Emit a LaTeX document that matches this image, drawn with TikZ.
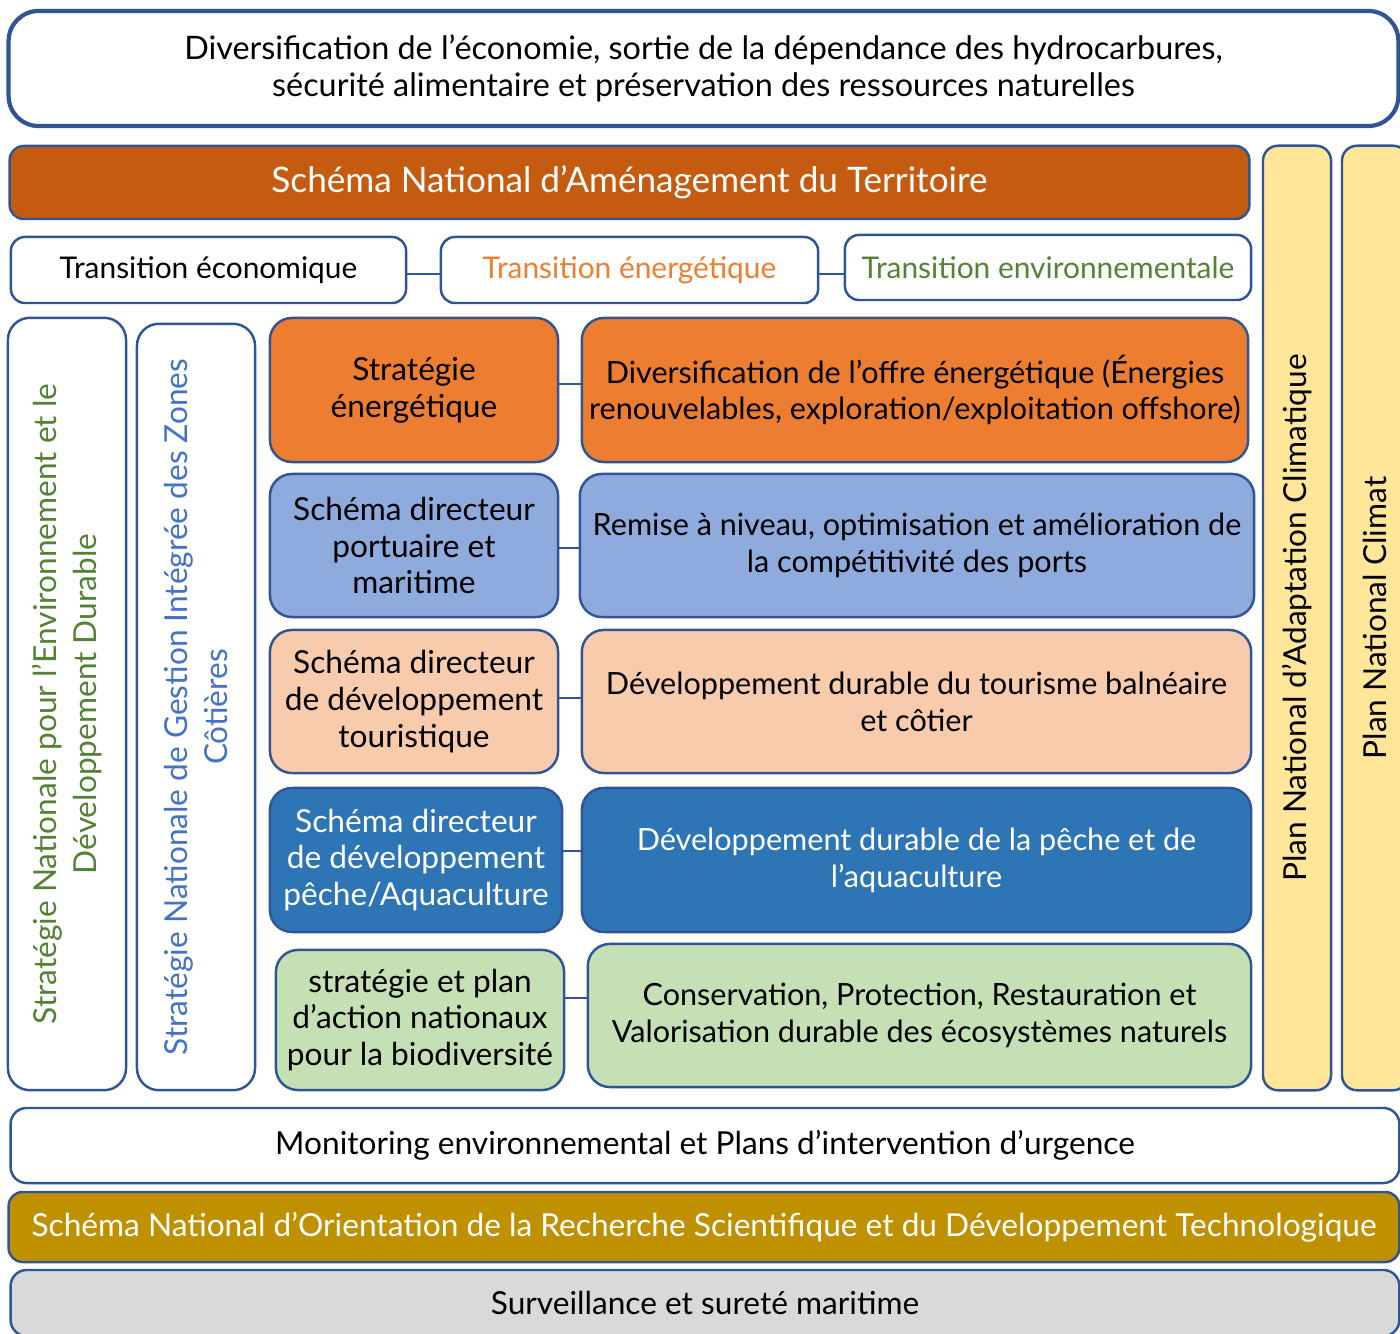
\documentclass[tikz,border=0pt]{standalone}
\usepackage{fontspec}
\setmainfont{Lato}
\definecolor{bordure}{HTML}{2F5597}
\definecolor{rouille}{HTML}{C55A11}
\definecolor{orange}{HTML}{ED7D31}
\definecolor{bleuclair}{HTML}{8FAADC}
\definecolor{saumon}{HTML}{F8CBAD}
\definecolor{bleu}{HTML}{2E75B6}
\definecolor{vertclair}{HTML}{C5E0B4}
\definecolor{jaune}{HTML}{FFE699}
\definecolor{ocre}{HTML}{BF9000}
\definecolor{gris}{HTML}{D9D9D9}
\definecolor{vert}{HTML}{548235}
\definecolor{bleutexte}{HTML}{4472C4}
\begin{document}
\begin{tikzpicture}[x=0.01cm,y=-0.01cm,
	boite/.style={draw=bordure, line width=0.7pt, rounded corners=0.22cm, align=center, inner sep=0pt, font=\fontsize{9}{10.5}\selectfont},
	action/.style={boite, font=\fontsize{8.7}{10.5}\selectfont},
	lien/.style={draw=bordure, line width=0.8pt}]
		\clip (0,0) rectangle (1400,1334);
		% Top band
		\node[boite, line width=1.2pt, rounded corners=0.3cm, minimum width=13.89cm, minimum height=1.15cm, font=\fontsize{9.2}{10.5}\selectfont] (objectif) at (703.5,68.5) {Diversification de l’économie, sortie de la dépendance des hydrocarbures,\\sécurité alimentaire et préservation des ressources naturelles};
		\node[boite, fill=rouille, text=white, rounded corners=0.14cm, minimum width=12.39cm, minimum height=0.73cm, font=\fontsize{10}{12}\selectfont] (snat) at (629.5,182.5) {Schéma National d’Aménagement du Territoire};
		\node[boite, minimum width=3.95cm, minimum height=0.66cm, rounded corners=0.14cm, font=\fontsize{8.5}{10}\selectfont] (teco) at (208.5,270) {Transition économique};
		\node[boite, minimum width=3.77cm, minimum height=0.66cm, rounded corners=0.14cm, text=orange, font=\fontsize{8.5}{10}\selectfont] (tener) at (629.5,270) {Transition énergétique};
		\node[boite, minimum width=4.06cm, minimum height=0.65cm, rounded corners=0.14cm, text=vert, font=\fontsize{8.5}{10}\selectfont] (tenv) at (1048,267.5) {Transition environnementale};
		\draw[lien] ([yshift=-0.04cm]teco.east) -- ([yshift=-0.04cm]teco.east -| tener.west);
		\draw[lien] ([yshift=-0.04cm]tener.east) -- ([yshift=-0.04cm]tener.east -| tenv.west);
		% Left columns
		\node[boite, rotate=90, minimum width=7.72cm, minimum height=1.18cm, text=vert, font=\fontsize{9}{11.3}\selectfont] (snedd) at (67,704) {Stratégie Nationale pour l’Environnement et le\\Développement Durable};
		\node[boite, rotate=90, minimum width=7.66cm, minimum height=1.18cm, text=bleutexte, font=\fontsize{9}{11.3}\selectfont] (sngizc) at (196,707) {Stratégie Nationale de Gestion Intégrée des Zones\\Côtières};
		% Rows
		\node[boite, fill=orange, minimum width=2.88cm, minimum height=1.44cm] (senergie) at (414,390) {Stratégie\\énergétique};
		\node[action, fill=orange, minimum width=6.66cm, minimum height=1.44cm] (offre) at (915,390) {Diversification de l’offre énergétique (Énergies\\renouvelables, exploration/exploitation offshore)};
		\node[boite, fill=bleuclair, minimum width=2.88cm, minimum height=1.43cm] (sports) at (414,545.5) {Schéma directeur\\portuaire et\\maritime};
		\node[action, fill=bleuclair, minimum width=6.74cm, minimum height=1.43cm] (ports) at (917,545.5) {Remise à niveau, optimisation et amélioration de\\la compétitivité des ports};
		\node[boite, fill=saumon, minimum width=2.88cm, minimum height=1.43cm] (stourisme) at (414,701.5) {Schéma directeur\\de développement\\touristique};
		\node[action, fill=saumon, minimum width=6.69cm, minimum height=1.43cm] (tourisme) at (916.5,701.5) {Développement durable du tourisme balnéaire\\et côtier};
		\node[boite, fill=bleu, text=white, minimum width=2.92cm, minimum height=1.44cm] (speche) at (416,860) {Schéma directeur\\de développement\\pêche/Aquaculture};
		\node[action, fill=bleu, text=white, minimum width=6.69cm, minimum height=1.44cm] (peche) at (916.5,860) {Développement durable de la pêche et de\\l’aquaculture};
		\node[boite, fill=vertclair, minimum width=2.88cm, minimum height=1.40cm] (sbiodiv) at (420,1020) {stratégie et plan\\d’action nationaux\\pour la biodiversité};
		\node[action, fill=vertclair, minimum width=6.63cm, minimum height=1.43cm] (biodiv) at (919.5,1015.5) {Conservation, Protection, Restauration et\\Valorisation durable des écosystèmes naturels};
		\draw[lien] ([yshift=0.06cm]senergie.east) -- ([yshift=0.06cm]senergie.east -| offre.west);
		\draw[lien] ([yshift=-0.025cm]sports.east) -- ([yshift=-0.025cm]sports.east -| ports.west);
		\draw[lien] ([yshift=0.035cm]stourisme.east) -- ([yshift=0.035cm]stourisme.east -| tourisme.west);
		\draw[lien] ([yshift=0.09cm]speche.east) -- ([yshift=0.09cm]speche.east -| peche.west);
		\draw[lien] ([yshift=0.22cm]sbiodiv.east) -- ([yshift=0.22cm]sbiodiv.east -| biodiv.west);
		% Right columns
		\node[boite, rotate=90, fill=jaune, rounded corners=0.15cm, minimum width=9.44cm, minimum height=0.68cm] (pnacc) at (1297,618) {Plan National d’Adaptation Climatique};
		\node[boite, rotate=90, fill=jaune, rounded corners=0.15cm, minimum width=9.44cm, minimum height=0.66cm] (pnc) at (1375,618) {Plan National Climat};
		% Bottom bands
		\node[boite, rounded corners=0.16cm, minimum width=13.88cm, minimum height=0.75cm] (monitoring) at (705,1145.5) {Monitoring environnemental et Plans d’intervention d’urgence};
		\node[boite, fill=ocre, text=white, rounded corners=0.14cm, minimum width=13.90cm, minimum height=0.70cm] (snorst) at (704,1227) {Schéma National d’Orientation de la Recherche Scientifique et du Développement Technologique};
		\node[boite, fill=gris, rounded corners=0.16cm, minimum width=13.88cm, minimum height=0.66cm] (surete) at (705,1303) {Surveillance et sureté maritime};
	\end{tikzpicture}
\end{document}
